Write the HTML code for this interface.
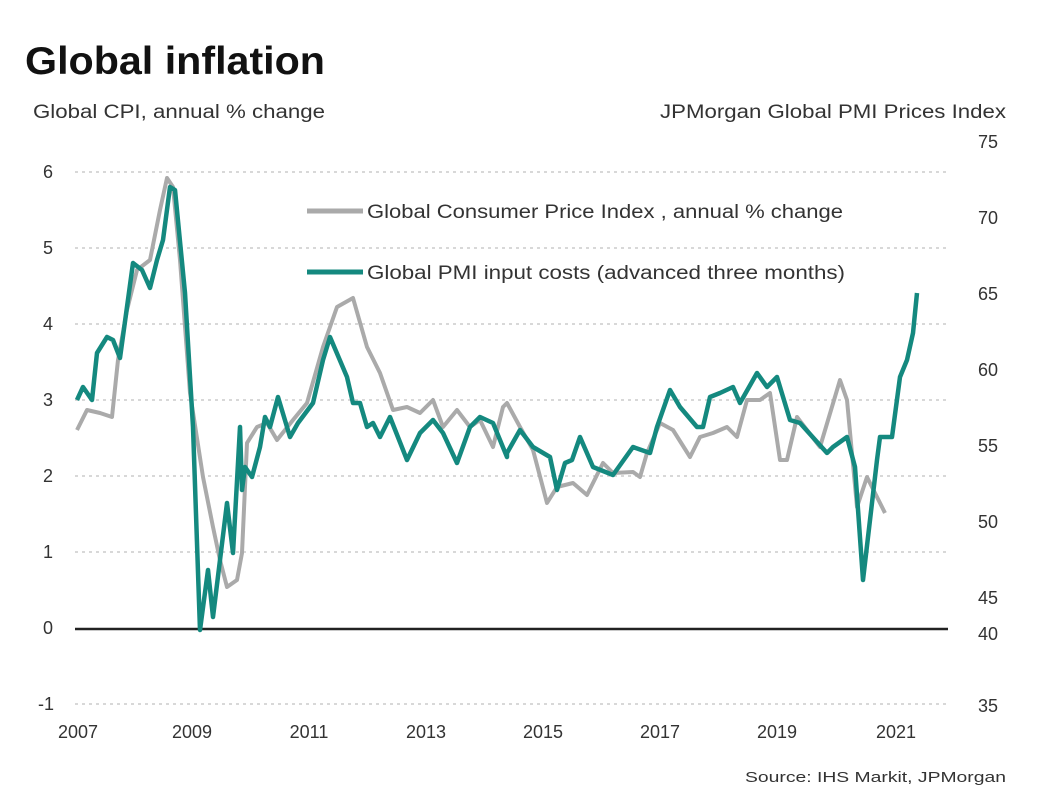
<!DOCTYPE html>
<html><head><meta charset="utf-8"><style>
body{margin:0;background:#fff;}
svg{display:block;font-family:"Liberation Sans",sans-serif;}
</style></head><body>
<svg width="1052" height="806" viewBox="0 0 1052 806" xmlns="http://www.w3.org/2000/svg">
<rect width="1052" height="806" fill="#fff"/>
<text x="25" y="74" font-size="39" font-weight="bold" fill="#111" textLength="300" lengthAdjust="spacingAndGlyphs">Global inflation</text>
<text x="33" y="118" font-size="19" fill="#333" textLength="292" lengthAdjust="spacingAndGlyphs">Global  CPI, annual % change</text>
<text x="660" y="118" font-size="19" fill="#333" textLength="346" lengthAdjust="spacingAndGlyphs">JPMorgan  Global  PMI  Prices Index</text>
<g stroke="#ccc" stroke-width="1.5" stroke-dasharray="3,4">
<line x1="75" y1="172" x2="948" y2="172"/><line x1="75" y1="248" x2="948" y2="248"/>
<line x1="75" y1="324" x2="948" y2="324"/><line x1="75" y1="400" x2="948" y2="400"/>
<line x1="75" y1="476" x2="948" y2="476"/><line x1="75" y1="552" x2="948" y2="552"/>
<line x1="75" y1="704" x2="948" y2="704"/>
</g>
<line x1="75" y1="629" x2="948" y2="629" stroke="#222" stroke-width="2.5"/>
<g font-size="18" fill="#333" text-anchor="middle">
<text x="48" y="178">6</text><text x="48" y="254">5</text><text x="48" y="330">4</text><text x="48" y="406">3</text><text x="48" y="482">2</text><text x="48" y="558">1</text><text x="48" y="634">0</text><text x="46" y="710">-1</text>
<text x="988" y="148">75</text><text x="988" y="224">70</text><text x="988" y="300">65</text><text x="988" y="376">60</text><text x="988" y="452">55</text><text x="988" y="528">50</text><text x="988" y="604">45</text><text x="988" y="640">40</text><text x="988" y="712">35</text>
<text x="78" y="738">2007</text><text x="192" y="738">2009</text><text x="309" y="738">2011</text><text x="426" y="738">2013</text><text x="543" y="738">2015</text><text x="660" y="738">2017</text><text x="777" y="738">2019</text><text x="896" y="738">2021</text>
</g>
<text x="745" y="782" font-size="15" fill="#333" textLength="261" lengthAdjust="spacingAndGlyphs">Source: IHS Markit, JPMorgan</text>
<polyline fill="none" stroke="#aaa" stroke-width="4" stroke-linejoin="round" points="77,430 87,410 100,413 112,417 118,360 127,310 137,270 150,260 160,210 167,178 173,187 180,260 190,393 203,477 213,527 220,560 227,587 237,580 242,553 247,443 257,427 267,423 277,440 293,420 307,403 323,347 337,307 353,298 367,347 380,373 393,410 407,407 420,413 433,400 443,427 457,410 470,427 480,420 493,447 503,407 507,403 520,427 533,450 547,503 557,487 573,483 587,495 603,463 613,473 633,472 640,477 647,453 660,423 673,430 690,457 700,437 713,433 727,427 737,437 747,400 760,400 770,393 780,460 787,460 797,417 820,447 840,380 847,400 857,507 867,477 885,513"/>
<polyline fill="none" stroke="#14897f" stroke-width="4.5" stroke-linejoin="round" points="77,400 83,387 92,400 97,353 107,337 113,340 120,358 133,263 142,270 150,288 157,260 163,240 170,187 175,190 185,293 193,427 200,630 208,570 213,617 227,503 233,553 240,427 242,490 245,467 252,477 260,447 265,417 270,427 278,397 290,437 298,423 313,403 323,360 330,337 347,377 353,403 360,403 367,427 373,423 380,437 390,417 407,460 420,433 433,420 443,433 457,463 470,427 480,417 493,423 507,457 507,453 520,430 533,447 550,457 557,490 565,463 572,460 580,437 593,467 613,475 633,447 650,453 657,427 670,390 680,407 697,427 703,427 710,397 720,393 733,387 740,403 757,373 767,387 777,377 790,420 800,423 827,453 833,447 847,437 855,467 863,580 877,460 880,437 892,437 900,377 907,360 913,333 917,293"/>
<line x1="307" y1="211" x2="363" y2="211" stroke="#aaa" stroke-width="5"/>
<text x="367" y="218" font-size="19" fill="#333" textLength="476" lengthAdjust="spacingAndGlyphs">Global Consumer Price Index , annual % change</text>
<line x1="307" y1="272" x2="363" y2="272" stroke="#14897f" stroke-width="5"/>
<text x="367" y="279" font-size="19" fill="#333" textLength="478" lengthAdjust="spacingAndGlyphs">Global PMI input costs (advanced three months)</text>
</svg>
</body></html>
